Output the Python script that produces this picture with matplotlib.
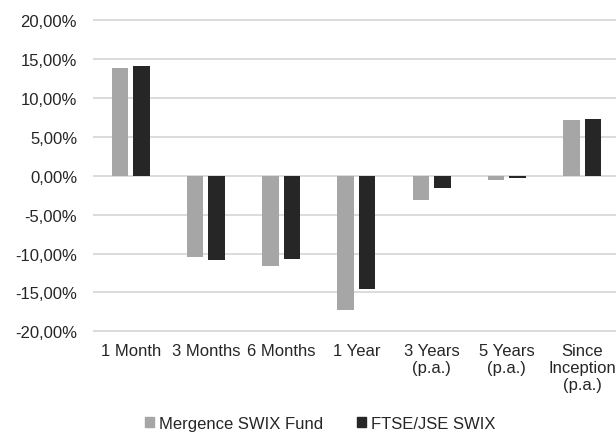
import numpy as np
import matplotlib
matplotlib.use('Agg')
import matplotlib.pyplot as plt
from matplotlib.patches import Patch

categories = ['1 Month', '3 Months', '6 Months', '1 Year', '3 Years\n(p.a.)',
              '5 Years\n(p.a.)', 'Since\nInception\n(p.a.)']
fund = [13.89, -10.40, -11.59, -17.20, -3.09, -0.60, 7.15]
index = [14.10, -10.86, -10.64, -14.60, -1.62, -0.25, 7.25]
series_names = ['Mergence SWIX Fund', 'FTSE/JSE SWIX']
yticks = [-20, -15, -10, -5, 0, 5, 10, 15, 20]

plt.rcParams['font.family'] = ['Liberation Sans', 'DejaVu Sans']
txt = '#262626'

fig = plt.figure(figsize=(6.16, 4.35), dpi=100)
ax = fig.add_axes([93 / 616, 0.236, 1 - 93 / 616, 0.7155])

x = np.arange(len(categories))
w = 0.22
ax.bar(x - 0.143, fund, w, color='#a6a6a6', zorder=3)
ax.bar(x + 0.143, index, w, color='#262626', zorder=3)

ax.hlines(yticks, -0.5, 6.45, color='#d9d9d9', lw=1.3, zorder=1, clip_on=False)
ax.set_xlim(-0.5, 6.45)
ax.set_ylim(-20, 20)
ax.set_yticks(yticks)
ax.set_yticklabels(['{:.2f}%'.format(v).replace('.', ',') for v in yticks])
ax.set_xticks(x)
ax.set_xticklabels(categories, linespacing=1.15)
ax.tick_params(length=0, labelsize=12, colors=txt)
ax.tick_params(axis='y', pad=11.5)
ax.tick_params(axis='x', pad=8.5)
for s in ax.spines.values():
    s.set_visible(False)

handles = [Patch(color='#a6a6a6'), Patch(color='#262626')]
fig.legend(handles, series_names, loc='center', bbox_to_anchor=(0.52, 0.025),
           ncol=2, frameon=False, fontsize=12, handlelength=0.55, handleheight=0.55,
           handletextpad=0.3, columnspacing=2.0, labelcolor=txt)

fig.savefig('out.png', dpi=100)
